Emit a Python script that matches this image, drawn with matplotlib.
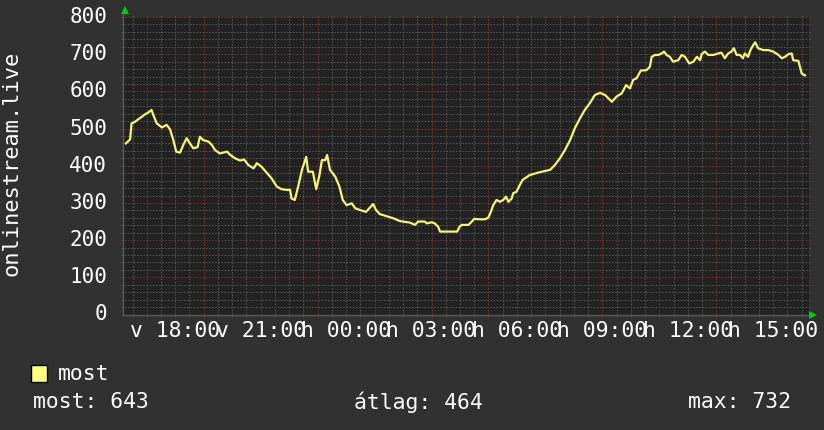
import matplotlib
matplotlib.use('Agg')
import matplotlib.pyplot as plt
from matplotlib.patches import Rectangle

# time axis: minutes after Sunday 16:00 (v = vasárnap, h = hétfő)
minutes = [16, 25, 28, 35, 42, 50, 56, 63, 70, 74,
           81, 92, 102, 109, 116, 122, 130, 137, 144, 151,
           158, 167, 172, 179, 190, 197, 204, 214, 229, 236,
           246, 257, 265, 274, 285, 292, 302, 313, 323, 334,
           344, 355, 362, 365, 372, 379, 387, 396, 400, 410,
           417, 424, 429, 436, 440, 446, 457, 466, 473, 481,
           492, 499, 509, 522, 537, 543, 551, 564, 579, 594,
           615, 625, 632, 646, 650, 660, 667, 674, 678, 692,
           706, 714, 719, 724, 738, 745, 750, 762, 773, 780,
           785, 790, 797, 804, 811, 817, 822, 829, 832, 839,
           846, 852, 867, 889, 910, 920, 931, 941, 952, 962,
           973, 983, 994, 1004, 1015, 1026, 1040, 1050, 1061, 1070,
           1078, 1085, 1092, 1101, 1113, 1120, 1124, 1131, 1138, 1145,
           1150, 1155, 1162, 1169, 1180, 1187, 1194, 1203, 1212, 1219,
           1226, 1229, 1236, 1243, 1254, 1264, 1271, 1278, 1285, 1292,
           1297, 1303, 1310, 1316, 1320, 1327, 1332, 1338, 1342, 1348,
           1359, 1370, 1380, 1391, 1398, 1405, 1412, 1419, 1422, 1433,
           1440, 1447]
viewers = [460, 471, 514, 518, 525, 532, 538, 543, 550, 536,
           514, 503, 510, 498, 469, 438, 435, 456, 474, 460,
           447, 450, 478, 469, 465, 456, 442, 433, 438, 429,
           420, 414, 417, 402, 393, 407, 397, 381, 366, 344,
           337, 335, 335, 312, 308, 344, 389, 424, 384, 384,
           337, 375, 415, 415, 429, 389, 371, 344, 308, 294,
           299, 286, 281, 276, 297, 281, 270, 265, 259, 251,
           247, 241, 250, 250, 245, 248, 245, 236, 223, 223,
           223, 223, 236, 241, 241, 250, 257, 256, 256, 261,
           276, 294, 308, 303, 308, 317, 303, 312, 326, 330,
           348, 362, 375, 383, 389, 402, 421, 442, 469, 501,
           528, 550, 569, 590, 596, 590, 572, 586, 595, 617,
           608, 631, 635, 656, 657, 666, 693, 698, 698, 702,
           707, 698, 693, 680, 684, 698, 693, 675, 680, 693,
           684, 700, 707, 698, 698, 702, 704, 689, 702, 707,
           716, 698, 698, 689, 702, 693, 711, 725, 732, 716,
           711, 711, 707, 698, 689, 693, 700, 702, 684, 682,
           648, 643]

ytick_values = [0, 100, 200, 300, 400, 500, 600, 700, 800]
xlabel_minutes = [120, 300, 480, 660, 840, 1020, 1200, 1380]
xlabel_texts = ['v 18:00', 'v 21:00', 'h 00:00', 'h 03:00',
                'h 06:00', 'h 09:00', 'h 12:00', 'h 15:00']
vlabel = 'onlinestream.live'
series_name = 'most'
stat_names = ['most', 'átlag', 'max']
stat_values = [643, 464, 732]

BACK = '#313131'
CANVAS = '#222222'
MINOR = '#565656'
MAJOR = '#7a3434'
LINE = '#f6f472'
FONT = 'DejaVu Sans Mono'

W, H = 824, 430
plt.rcParams['font.family'] = FONT

fig = plt.figure(figsize=(W/100, H/100), dpi=100, facecolor=BACK)

# plot area in pixel coords of the original
x0, x1, ytop, ybot = 123.5, 809.3, 17, 314.5
ax = fig.add_axes([x0/W, 1-ybot/H, (x1-x0)/W, (ybot-ytop)/H], facecolor=CANVAS)
ax.set_xlim(11, 1456)
ax.set_ylim(0, 800)
for s in ax.spines.values():
    s.set_visible(False)
ax.set_xticks([])
ax.set_yticks([])

dots = (0, (1.5, 1.5))
# vertical grid: every 30 min, red every 2 hours on odd hours
for m in range(30, 1456, 30):
    major = (m - 60) % 120 == 0
    ax.axvline(m, ymin=-0.008, ymax=1.008, clip_on=False,
               color=MAJOR if major else MINOR, lw=0.75, ls=dots, zorder=1)
# horizontal grid: every 20, red every 100
for v in range(20, 801, 20):
    major = v % 100 == 0
    ax.axhline(v, xmin=-0.004, xmax=1.004, clip_on=False,
               color=MAJOR if major else MINOR, lw=0.75, ls=dots, zorder=1)

# axes lines + rrdtool style arrows
ax.plot([0, 1.006], [0, 0], transform=ax.transAxes, color='#5a5a5a',
        lw=1, clip_on=False, zorder=2)
ax.plot([0, 0], [0, 1.02], transform=ax.transAxes, color='#5a5a5a',
        lw=1, clip_on=False, zorder=2)
ax.plot([0.002], [1.022], marker='^', ms=6, color='#00cc00', mew=0,
        transform=ax.transAxes, clip_on=False)
ax.plot([1.006], [0.0], marker='>', ms=6, color='#00cc00', mew=0,
        transform=ax.transAxes, clip_on=False)

ax.plot(minutes, viewers, color=LINE, lw=1.6, zorder=3)

for v in ytick_values:
    ax.text(-0.024, v, str(v), transform=ax.get_yaxis_transform(),
            ha='right', va='center', color='white', fontsize=15)
for m, t in zip(xlabel_minutes, xlabel_texts):
    ax.text(m, -0.056, t, transform=ax.get_xaxis_transform(),
            ha='center', va='center', color='white', fontsize=15.4)

fig.text(12/W, 1-163/H, vlabel, rotation=90, ha='center', va='center',
         color='white', fontsize=15.8)

# legend
fig.add_artist(Rectangle((31.5/W, 1-381.7/H), 15.8/W, 16.7/H,
                         transform=fig.transFigure, facecolor='#ffff80',
                         edgecolor='black', lw=1))
fig.text(58/W, 1-374/H, series_name, ha='left', va='center',
         color='white', fontsize=15.4)
for xp, n, v in zip([32.6, 353.7, 688], stat_names, stat_values):
    fig.text(xp/W, 1-402/H, f'{n}: {v}', ha='left', va='center',
             color='white', fontsize=15.4)

fig.savefig('out.png', dpi=100, facecolor=BACK)
